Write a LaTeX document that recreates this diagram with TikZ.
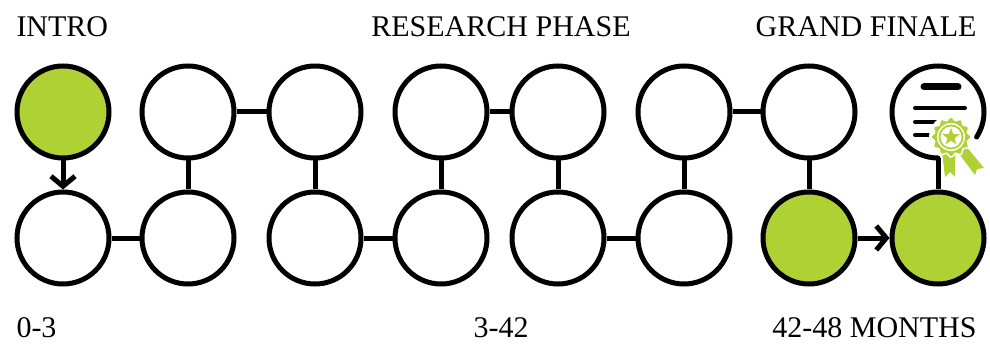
\documentclass[tikz,border=0pt]{standalone}
\usepackage{fontspec}
\setmainfont{Liberation Serif}
\usepackage{tikz}
\usetikzlibrary{arrows.meta,positioning,shapes.geometric}
\definecolor{phasegreen}{RGB}{176,209,52}

\begin{document}
\begin{tikzpicture}[x=1pt,y=1pt,line width=5pt,font=\fontsize{30}{36}\selectfont]
  % Node style
  \tikzstyle{stage}=[draw,circle,minimum size=92pt,inner sep=0pt,fill=white]
  \tikzstyle{done}=[stage,fill=phasegreen]
  \tikzstyle{phasetext}=[inner sep=0pt]
  \tikzstyle{go}=[-{Straight Barb[length=10pt,width=24pt]}]

  \useasboundingbox (0,0) rectangle (990,343);

  % Nodes
  \node[done] (t1) at (63,231) {};
  \node[stage] (t2) at (188,231) {};
  \node[stage] (t3) at (315,231) {};
  \node[stage] (t4) at (441,231) {};
  \node[stage] (t5) at (558,231) {};
  \node[stage] (t6) at (684,231) {};
  \node[stage] (t7) at (809,231) {};
  \node[circle,minimum size=92pt,inner sep=0pt,outer sep=0pt] (cert) at (938,231) {};
  \node[stage] (b1) at (63,105) {};
  \node[stage] (b2) at (188,105) {};
  \node[stage] (b3) at (315,105) {};
  \node[stage] (b4) at (441,105) {};
  \node[stage] (b5) at (558,105) {};
  \node[stage] (b6) at (684,105) {};
  \node[done] (b7) at (809,105) {};
  \node[done] (b8) at (938,105) {};

  % Texts
  \node[phasetext,anchor=base west] (intro) at (14,306) {INTRO};
  \node[phasetext,anchor=base] (research) at (501,306) {RESEARCH PHASE};
  \node[phasetext,anchor=base east] (finale) at (979,306) {GRAND FINALE};
  \node[phasetext,anchor=base west] (start) at (14,6) {0-3};
  \node[phasetext,anchor=base] (middle) at (501,6) {3-42};
  \node[phasetext,anchor=base east] (months) at (979,6) {42-48 MONTHS};

  % Connections
  \draw[go] (t1) -- (b1);
  \draw (b1) -- (b2);
  \draw (b2) -- (t2);
  \draw (t2) -- (t3);
  \draw (t3) -- (b3);
  \draw (b3) -- (b4);
  \draw (b4) -- (t4);
  \draw (t4) -- (t5);
  \draw (t5) -- (b5);
  \draw (b5) -- (b6);
  \draw (b6) -- (t6);
  \draw (t6) -- (t7);
  \draw (t7) -- (b7);
  \draw[go] (b7) -- (b8);
  \draw (b8) -- (cert.south);

  % Certificate
  \draw[line cap=round] (cert.south) arc[start angle=270,end angle=-33,radius=46pt];
  \begin{scope}[shift={(cert.center)}]
    \draw[line width=7pt,line cap=round] (-14,25) -- (20,25);
    \draw[line width=4pt,line cap=round] (-23,4) -- (27,4);
    \draw[line width=4pt,line cap=round] (-23,-10) -- (0,-10);
    \draw[line width=4pt,line cap=round] (-23,-23) -- (-8,-23);
    % badge
    \fill[white] (13,-25) circle[radius=22pt];
    \fill[phasegreen] (4,-39) -- (17,-39) -- (17,-65) -- (12,-60) -- (7,-65) -- cycle;
    \fill[phasegreen] (19,-39) -- (27,-33) -- (46,-56) -- (39,-57) -- (37,-63) -- cycle;
    \filldraw[fill=phasegreen,draw=white,line width=1.5pt]
      plot[domain=0:360,samples=121,smooth] ({13+(18.5+1.5*cos(12*\x))*cos(\x)},{-25+(18.5+1.5*cos(12*\x))*sin(\x)}) -- cycle;
    \fill[white] (13,-25) circle[radius=14pt];
    \fill[phasegreen] (13,-25) circle[radius=12.5pt];
    \fill[white] (13,-25) circle[radius=10.5pt];
    \node[star,star points=5,star point ratio=2.4,fill=phasegreen,minimum size=18pt,inner sep=0pt] (medal) at (13,-25) {};
  \end{scope}
\end{tikzpicture}
\end{document}
